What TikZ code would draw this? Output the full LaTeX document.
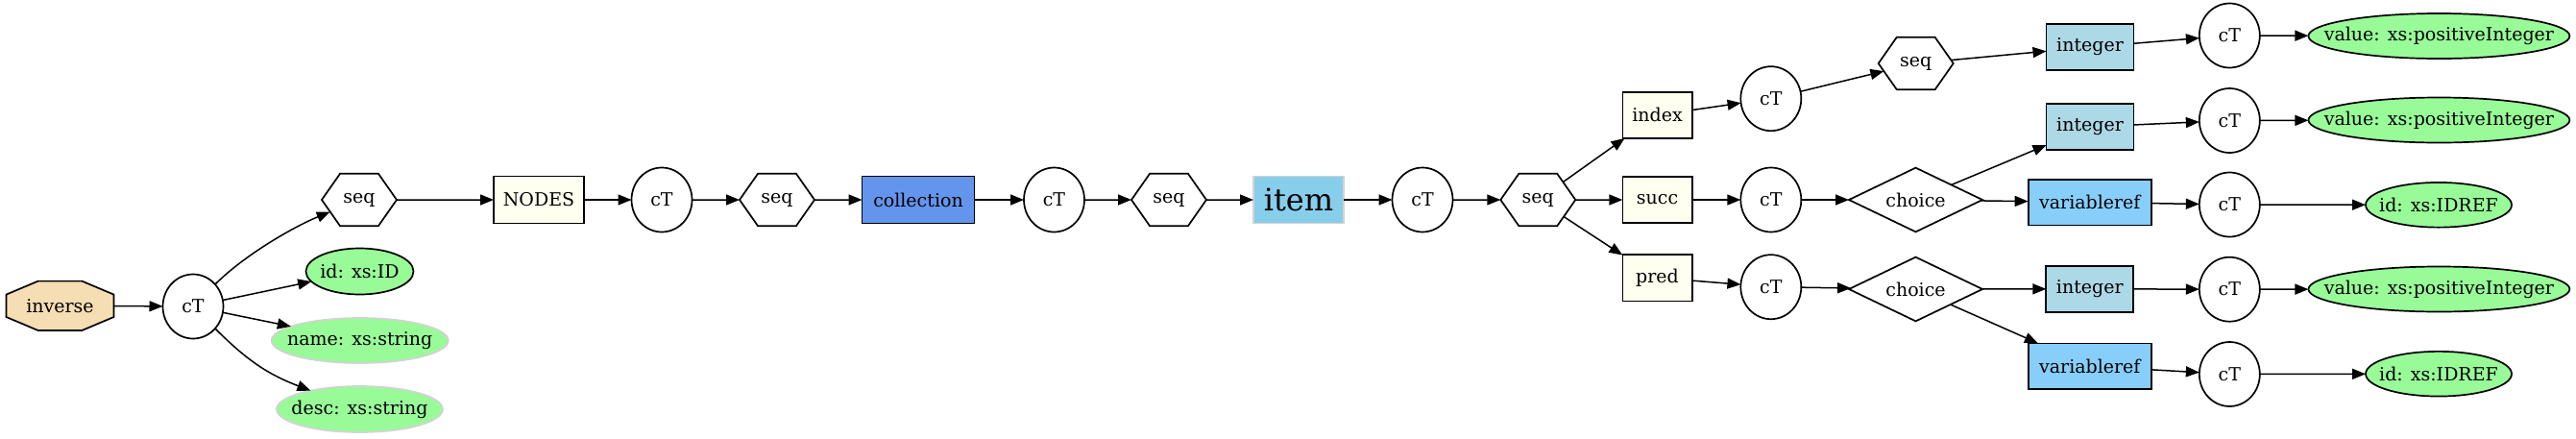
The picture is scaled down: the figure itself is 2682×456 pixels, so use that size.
\documentclass[tikz,border=0pt]{standalone}
\usepackage{fontspec}
\setmainfont{DejaVu Serif}
\usetikzlibrary{arrows.meta,shapes.geometric,shapes.symbols}
\definecolor{cwheat}{HTML}{F5DEB3}
\definecolor{cpalegreen}{HTML}{98FB98}
\definecolor{civory}{HTML}{FFFFF0}
\definecolor{ccornflower}{HTML}{6495ED}
\definecolor{cskyblue}{HTML}{87CEEB}
\definecolor{clightblue}{HTML}{ADD8E6}
\definecolor{clightskyblue}{HTML}{87CEFA}
\definecolor{clightgray}{HTML}{D3D3D3}
\newcommand\mklbl[1]{\makebox[0pt]{#1}}
\begin{document}
\begin{tikzpicture}[x=1pt,y=-1pt,
  base/.style={draw=black, line width=1.7pt, inner sep=0pt, outer sep=0pt, font=\fontsize{19}{22}\selectfont},
  ctnode/.style={base, ellipse, fill=white, minimum width=63pt, minimum height=67pt},
  seqnode/.style={base, signal, signal to=east and west, signal pointer angle=110, fill=white, minimum width=78pt, minimum height=54.6pt},
  choicenode/.style={base, diamond, shape aspect=2, fill=white, minimum width=139pt, minimum height=66.7pt},
  box/.style={base, rectangle},
  ivorybox/.style={box, fill=civory, minimum width=72.3pt, minimum height=48.3pt},
  intbox/.style={box, fill=clightblue, minimum width=91pt, minimum height=48pt},
  vrbox/.style={box, fill=clightskyblue, minimum width=128.3pt, minimum height=47.7pt},
  attr/.style={base, ellipse, fill=cpalegreen},
  valattr/.style={attr, minimum width=272pt, minimum height=47pt},
  idrattr/.style={attr, minimum width=152pt, minimum height=46.7pt},
  edge/.style={draw=black, line width=1.5pt, -{Triangle[length=14pt,width=11pt]}},
]
\fill[white] (0,0) rectangle (2682,456);
\useasboundingbox (0,0) rectangle (2682,456);

% inverse octagon
\filldraw[fill=cwheat, draw=black, line width=1.7pt] (62.5,318.3) ++(-22.8,-25.7) -- ++(45.6,0) -- ++(33.2,14) -- ++(0,23.4) -- ++(-33.2,14) -- ++(-45.6,0) -- ++(-33.2,-14) -- ++(0,-23.4) -- cycle;
\node[base, draw=none, rectangle, minimum width=112pt, minimum height=51pt] (inv) at (62.5,318.3) {inverse};

\node[ctnode] (ct1) at (201,319) {cT};
\node[seqnode] (seq1) at (374,208) {seq};
\node[attr, minimum width=112pt, minimum height=48pt] (idid) at (374.5,282.5) {\mklbl{id: xs:ID}};
\node[attr, draw=clightgray, minimum width=184pt, minimum height=47pt] (name) at (374.7,354.5) {\mklbl{name: xs:string}};
\node[attr, draw=clightgray, minimum width=173pt, minimum height=48pt] (desc) at (374.5,426) {\mklbl{desc: xs:string}};
\node[box, fill=civory, minimum width=94pt, minimum height=49pt] (nodes) at (561,208) {NODES};
\node[ctnode] (ct2) at (689,208) {cT};
\node[seqnode] (seq2) at (809,208) {seq};
\node[box, fill=ccornflower, minimum width=117pt, minimum height=49pt] (coll) at (956,208) {collection};
\node[ctnode] (ct3) at (1097.5,208) {cT};
\node[seqnode] (seq3) at (1217,208) {seq};
\node[box, fill=cskyblue, draw=clightgray, minimum width=94pt, minimum height=49pt, font=\fontsize{32}{36}\selectfont] (item) at (1352,208) {item};
\node[ctnode] (ct4) at (1481,208) {cT};
\node[seqnode] (seq4) at (1601.3,208) {seq};

\node[ivorybox] (index) at (1725.5,119.8) {index};
\node[ivorybox] (succ) at (1725.5,208) {succ};
\node[ivorybox] (pred) at (1725.5,289.2) {pred};

\node[ctnode] (ct5) at (1843.8,102.7) {cT};
\node[seqnode] (seq5) at (1994.7,66) {seq};
\node[intbox] (int1) at (2176,49) {integer};
\node[ctnode] (ct6) at (2321.3,37) {cT};
\node[valattr] (val1) at (2539.4,37.5) {\mklbl{value: xs:positiveInteger}};

\node[ctnode] (ct7) at (1843.8,208) {cT};
\node[choicenode] (ch1) at (1994.5,208) {choice};
\node[intbox] (int2) at (2176,132) {integer};
\node[ctnode] (ct8) at (2321.3,125.5) {cT};
\node[valattr] (val2) at (2539.4,125) {\mklbl{value: xs:positiveInteger}};
\node[vrbox] (vr1) at (2175.8,210.5) {variableref};
\node[ctnode] (ct9) at (2321.3,213) {cT};
\node[idrattr] (idr1) at (2539,213.3) {\mklbl{id: xs:IDREF}};

\node[ctnode] (ct10) at (1843.8,298.7) {cT};
\node[choicenode] (ch2) at (1994.5,301) {choice};
\node[intbox] (int3) at (2175.8,300.8) {integer};
\node[ctnode] (ct11) at (2321.3,301.2) {cT};
\node[valattr] (val3) at (2539.4,301) {\mklbl{value: xs:positiveInteger}};
\node[vrbox] (vr2) at (2175.8,381.2) {variableref};
\node[ctnode] (ct12) at (2321.3,389.5) {cT};
\node[idrattr] (idr2) at (2539,389.2) {\mklbl{id: xs:IDREF}};

% edges
\draw[edge] (inv) -- (ct1);
\draw[edge] (ct1) .. controls (255,265) and (306,236) .. (seq1);
\draw[edge] (ct1) -- (idid);
\draw[edge] (ct1) -- (name);
\draw[edge] (ct1) .. controls (255,373) and (277,389) .. (desc);
\draw[edge] (seq1) -- (nodes);
\draw[edge] (nodes) -- (ct2);
\draw[edge] (ct2) -- (seq2);
\draw[edge] (seq2) -- (coll);
\draw[edge] (coll) -- (ct3);
\draw[edge] (ct3) -- (seq3);
\draw[edge] (seq3) -- (item);
\draw[edge] (item) -- (ct4);
\draw[edge] (ct4) -- (seq4);
\draw[edge] (seq4) -- (index);
\draw[edge] (seq4) -- (succ);
\draw[edge] (seq4) -- (pred);
\draw[edge] (index) -- (ct5);
\draw[edge] (ct5) -- (seq5);
\draw[edge] (seq5) -- (int1);
\draw[edge] (int1) -- (ct6);
\draw[edge] (ct6) -- (val1);
\draw[edge] (succ) -- (ct7);
\draw[edge] (ct7) -- (ch1);
\draw[edge] (ch1) -- (int2);
\draw[edge] (int2) -- (ct8);
\draw[edge] (ct8) -- (val2);
\draw[edge] (ch1) -- (vr1);
\draw[edge] (vr1) -- (ct9);
\draw[edge] (ct9) -- (idr1);
\draw[edge] (pred) -- (ct10);
\draw[edge] (ct10) -- (ch2);
\draw[edge] (ch2) -- (int3);
\draw[edge] (int3) -- (ct11);
\draw[edge] (ct11) -- (val3);
\draw[edge] (ch2) -- (vr2);
\draw[edge] (vr2) -- (ct12);
\draw[edge] (ct12) -- (idr2);
\end{tikzpicture}
\end{document}
